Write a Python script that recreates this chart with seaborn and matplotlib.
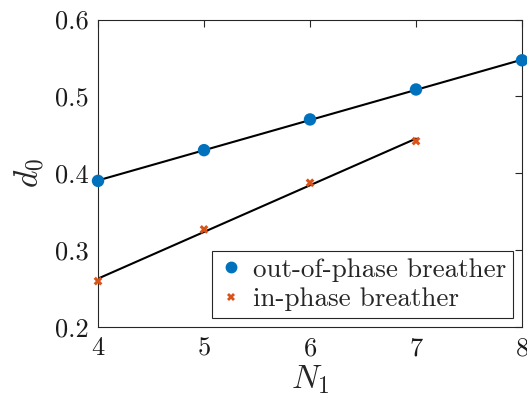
import numpy as np
import pandas as pd
import matplotlib
matplotlib.use("Agg")
import matplotlib.pyplot as plt
import seaborn as sns
from matplotlib.lines import Line2D

# Data
n_out = [4, 5, 6, 7, 8]
d_out = [0.390, 0.430, 0.470, 0.509, 0.547]
n_in = [4, 5, 6, 7]
d_in = [0.2595, 0.3268, 0.3875, 0.4418]
label_out = "out-of-phase breather"
label_in = "in-phase breather"
x_ticks = [4, 5, 6, 7, 8]
y_ticks = [0.2, 0.3, 0.4, 0.5, 0.6]

sns.set_style("white")
plt.rcParams["font.family"] = "serif"
plt.rcParams["font.serif"] = ["cmr10"]
plt.rcParams["mathtext.fontset"] = "cm"
plt.rcParams["axes.unicode_minus"] = False
plt.rcParams["axes.formatter.use_mathtext"] = True

df = pd.DataFrame({
    "N": n_out + n_in,
    "d": d_out + d_in,
    "type": [label_out] * len(n_out) + [label_in] * len(n_in),
})

fig = plt.figure(figsize=(5.27, 4.08), dpi=100)
ax = fig.add_axes([0.186, 0.199, 0.8045, 0.753])

for xs, ys in [(n_out, d_out), (n_in, d_in)]:
    sns.regplot(x=xs, y=ys, ax=ax, scatter=False, ci=None, truncate=True,
                line_kws=dict(color="black", lw=1.5, zorder=2))

palette = {label_out: "#0072BD", label_in: "#D95319"}
sns.scatterplot(data=df[df.type == label_out], x="N", y="d", hue="type",
                palette=palette, marker="o", s=80, edgecolor="none",
                ax=ax, zorder=3, legend=False, clip_on=False)
sns.scatterplot(data=df[df.type == label_in], x="N", y="d", hue="type",
                palette=palette, marker="X", s=40, edgecolor="none",
                ax=ax, zorder=3, legend=False, clip_on=False)

ax.set_xlim(4, 8)
ax.set_ylim(0.2, 0.6)
ax.set_xticks(x_ticks)
ax.set_yticks(y_ticks)
ax.set_xticklabels([str(t) for t in x_ticks])
ax.set_yticklabels([f"{t:.1f}" for t in y_ticks])
ax.tick_params(direction="in", length=5, width=0.8, top=True, right=True,
               labelsize=19, colors="#262626", pad=7)
for lab in ax.get_xticklabels() + ax.get_yticklabels():
    lab.set_color("#1a1a1a")
for sp in ax.spines.values():
    sp.set_color("#262626")
    sp.set_linewidth(0.8)
ax.set_xlabel("$N_1$", fontsize=24, labelpad=2)
ax.set_ylabel("$d_0$", fontsize=24, labelpad=6)

handles = [
    Line2D([], [], ls="none", marker="o", color="#0072BD", markersize=7.5),
    Line2D([], [], ls="none", marker="X", color="#D95319", markersize=6,
           markeredgewidth=0),
]
leg = ax.legend(handles, [label_out, label_in], loc="lower right",
                fontsize=19.5, frameon=True, fancybox=False,
                edgecolor="#262626", framealpha=1, borderpad=0.25,
                handletextpad=0.35, handlelength=0.9, labelspacing=0.2,
                borderaxespad=0.33)
leg.get_frame().set_linewidth(0.8)

fig.savefig("out.png", dpi=100)
